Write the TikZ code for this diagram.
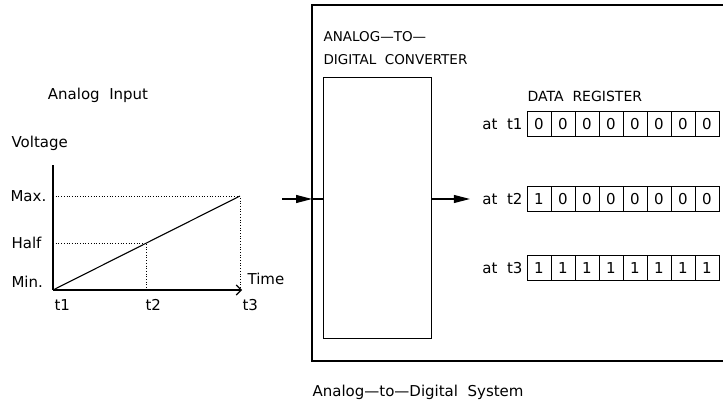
\documentclass[tikz,border=0pt]{standalone}
\usepackage{fontspec}
\setmainfont{DejaVu Sans}[WordSpace=2]
\usetikzlibrary{arrows.meta}
\tikzset{
  lbl/.style={inner sep=0pt, font=\fontsize{15}{18}\selectfont},
  cell/.style={draw, line width=1pt, minimum width=24pt, minimum height=25pt,
    inner sep=0pt, font=\fontsize{15}{18}\selectfont},
  guide/.style={dotted, line width=0.7pt},
  box/.style={draw, line width=1.2pt},
  flow/.style={-{Triangle[length=16pt,width=8pt]}},
}
\begin{document}
\begin{tikzpicture}[x=1pt,y=-1pt,line width=1.1pt]
\useasboundingbox (0,0) rectangle (723,403);
% the ramp
\coordinate (O) at (53,290);
\coordinate (ytop) at (53,165);
\coordinate (xend) at (242,290);
\coordinate (max) at (240,196);
\coordinate (half) at (146.5,243);
\draw (O) -- (ytop);
\draw[-{Straight Barb[length=5pt,width=10pt]}] (O) -- (xend);
\draw[guide] (O |- max) -- (max) -- (max |- O);
\draw[guide] (O |- half) -- (half) -- (half |- O);
\draw (O) -- (max);
\node[lbl] (input) at (98,95) {Analog Input};
\node[lbl, anchor=west] (volt) at (11,143) {Voltage};
\node[lbl, anchor=west] (lmax) at (10,196) {Max.};
\node[lbl, anchor=west] (lhalf) at (11,243) {Half};
\node[lbl, anchor=base west] (lmin) at (11,288) {Min.};
\node[lbl, anchor=base west] (time) at (247,285) {Time};
\node[lbl, anchor=west] (t1) at (54,305) {t1};
\node[lbl, anchor=west] (t2) at (145,305) {t2};
\node[lbl, anchor=west] (t3) at (242,305) {t3};
% the system
\coordinate (sysnw) at (312,5);
\draw[box] (723,5) -- (sysnw) -- (312,361) -- (723,361);
\node[box, anchor=north west, minimum width=108pt, minimum height=261pt, inner sep=0pt]
  (conv) at (323,77) {};
\node[anchor=north west, align=left, inner sep=0pt, font=\fontsize{13.5}{23}\selectfont]
  (convname) at (323,31) {ANALOG—TO—\\DIGITAL CONVERTER};
\node[lbl, anchor=west, font=\fontsize{14}{17}\selectfont] (regname) at (527,96) {DATA REGISTER};
\foreach \r/\yy/\bits in {1/124/{0,0,0,0,0,0,0,0},2/199/{1,0,0,0,0,0,0,0},3/268/{1,1,1,1,1,1,1,1}} {
  \node[lbl, anchor=east] (at\r) at (523,\yy) {at t\r};
  \foreach \b [count=\i] in \bits {
    \node[cell] (r\r-\i) at ({527+24*\i-12},\yy) {\b};
  }
}
\coordinate (in) at (282,199);
\draw[flow] (in) -- (in -| sysnw);
\draw (in -| sysnw) -- (in -| conv.west);
\draw[flow] (conv.east |- at2) -- ([xshift=-12pt]at2.west);
\node[lbl, anchor=west] (sysname) at (312,392) {Analog—to—Digital System};
\end{tikzpicture}
\end{document}
